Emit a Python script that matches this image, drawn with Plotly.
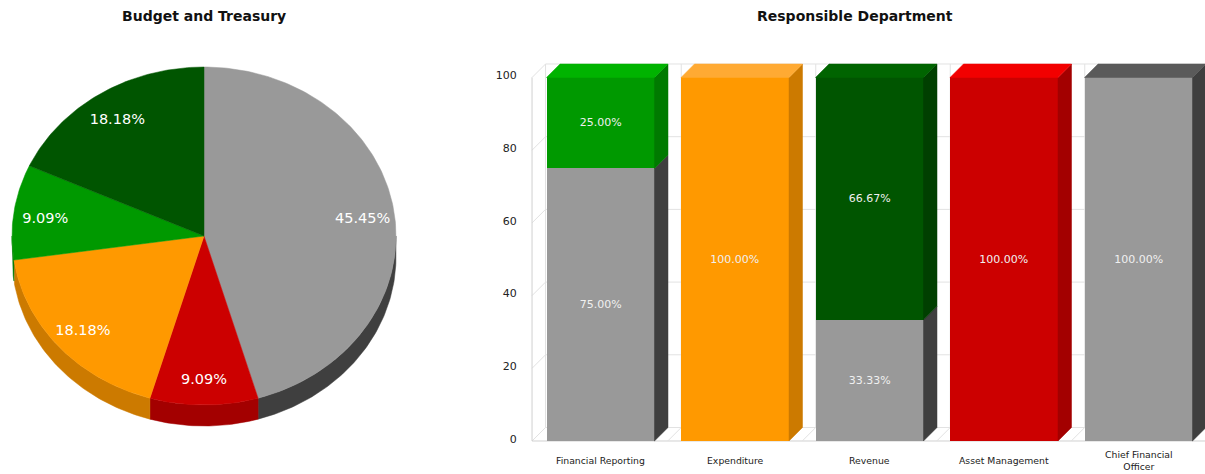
import numpy as np
import plotly.graph_objects as go

# ---------------- data ----------------
status_keys = ["grey", "red", "orange", "green", "darkgreen"]
pie_counts = [5, 1, 2, 1, 2]          # items per status (Budget and Treasury)

departments = ["Financial Reporting", "Expenditure", "Revenue",
               "Asset Management", "Chief Financial<br>Officer"]
pct_grey = [75.00, 0, 33.33, 0, 100.00]
pct_red = [0, 0, 0, 100.00, 0]
pct_orange = [0, 100.00, 0, 0, 0]
pct_green = [25.00, 0, 0, 0, 0]
pct_darkgreen = [0, 0, 66.67, 0, 0]
y_ticks = [0, 20, 40, 60, 80, 100]

# ---------------- styles ----------------
front = {"grey": "#999999", "red": "#CC0000", "orange": "#FF9900",
         "green": "#009900", "darkgreen": "#005500"}
side = {"grey": "#3F3F3F", "red": "#A30000", "orange": "#CC7A00",
        "green": "#007A00", "darkgreen": "#003F00"}
top = {"grey": "#5A5A5A", "red": "#F20000", "orange": "#FFAA33",
       "green": "#00B300", "darkgreen": "#006400"}
FONT = "DejaVu Sans"

fig = go.Figure()

# ---------------- 3D pie (tilted ellipse) ----------------
RY = 169 / 192          # vertical squash of the pie top
DEPTH = 21 / 192        # thickness of the pie rim
LABEL_R = 0.835
LABEL_DY = -3 / 192     # small downward nudge of slice labels

total = sum(pie_counts)
bounds = np.concatenate([[0], np.cumsum(pie_counts)]) / total * 2 * np.pi


def arc(t0, t1):
    n = max(int(abs(t1 - t0) / (np.pi / 180)) + 2, 2)
    t = np.linspace(t0, t1, n)
    return np.sin(t), RY * np.cos(t)


# rim (visible front half, angles between 90 and 270 degrees clockwise from top)
for k, key in enumerate(status_keys):
    a = max(bounds[k], np.pi / 2)
    b = min(bounds[k + 1], 3 * np.pi / 2)
    if b <= a:
        continue
    xs, ys = arc(a, b)
    px = list(xs) + list(xs[::-1]) + [xs[0]]
    py = list(ys) + list((ys - DEPTH)[::-1]) + [ys[0]]
    fig.add_trace(go.Scatter(x=px, y=py, fill="toself", mode="lines",
                             line=dict(width=0.5, color=side[key]),
                             fillcolor=side[key], hoverinfo="skip",
                             xaxis="x2", yaxis="y2"))

# top faces
for k, key in enumerate(status_keys):
    xs, ys = arc(bounds[k], bounds[k + 1])
    px = [0] + list(xs) + [0]
    py = [0] + list(ys) + [0]
    fig.add_trace(go.Scatter(x=px, y=py, fill="toself", mode="lines",
                             line=dict(width=0.5, color=front[key]),
                             fillcolor=front[key], hoverinfo="skip",
                             xaxis="x2", yaxis="y2"))

# slice percentages
mids = (bounds[:-1] + bounds[1:]) / 2
fig.add_trace(go.Scatter(
    x=LABEL_R * np.sin(mids), y=LABEL_R * RY * np.cos(mids) + LABEL_DY,
    mode="text", text=[f"{c / total * 100:.2f}%" for c in pie_counts],
    textfont=dict(family=FONT, size=14.5, color="#FFFFFF"),
    hoverinfo="skip", xaxis="x2", yaxis="y2"))

# ---------------- 3D stacked bars ----------------
BAR_W = 0.803           # bar width in category units
DX = 0.1004             # depth offset, x (category units)
DY = 3.714              # depth offset, y (value units)
X_LEFT = -0.509         # front edge of the left wall
X_END = 4.7

series = [("grey", pct_grey), ("red", pct_red), ("orange", pct_orange),
          ("green", pct_green), ("darkgreen", pct_darkgreen)]
x_idx = list(range(len(departments)))

for key, vals in series:
    fig.add_trace(go.Bar(
        x=x_idx, y=vals, width=BAR_W,
        marker=dict(color=front[key], line=dict(width=0)),
        text=[f"{v:.2f}%" if v else "" for v in vals],
        textposition="inside", insidetextanchor="middle",
        textfont=dict(family=FONT, size=11, color="#F0F0F0"),
        hoverinfo="skip", xaxis="x", yaxis="y"))

# side and top faces derived from the stacked values
base = [0.0] * len(departments)
top_key = [None] * len(departments)
for key, vals in series:
    sx, sy = [], []
    for i, v in enumerate(vals):
        if not v:
            continue
        xr = i + BAR_W / 2
        y0, y1 = base[i], base[i] + v
        sx += [xr, xr, xr + DX, xr + DX, xr, None]
        sy += [y0, y1, y1 + DY, y0 + DY, y0, None]
        base[i] = y1
        top_key[i] = key
    if sx:
        fig.add_trace(go.Scatter(x=sx, y=sy, fill="toself", mode="lines",
                                 line=dict(width=0.5, color=side[key]),
                                 fillcolor=side[key], hoverinfo="skip",
                                 xaxis="x", yaxis="y"))

for key in status_keys:
    tx, ty = [], []
    for i in x_idx:
        if top_key[i] != key:
            continue
        xl, xr, h = i - BAR_W / 2, i + BAR_W / 2, base[i]
        tx += [xl, xr, xr + DX, xl + DX, xl, None]
        ty += [h, h, h + DY, h + DY, h, None]
    if tx:
        fig.add_trace(go.Scatter(x=tx, y=ty, fill="toself", mode="lines",
                                 line=dict(width=0.5, color=top[key]),
                                 fillcolor=top[key], hoverinfo="skip",
                                 xaxis="x", yaxis="y"))

# walls, floor and grid of the 3D frame
GRID = "#E2E2E2"
EDGE = "#D0D0D0"
shapes = []


def seg(x0, y0, x1, y1, color):
    shapes.append(dict(type="line", xref="x", yref="y", x0=x0, y0=y0,
                       x1=x1, y1=y1, layer="below",
                       line=dict(color=color, width=1)))


for v in y_ticks:
    seg(X_LEFT + DX, v + DY, X_END, v + DY, GRID)
    seg(X_LEFT, v, X_LEFT + DX, v + DY, GRID)
seg(X_LEFT, 0, X_LEFT, y_ticks[-1], EDGE)
seg(X_LEFT + DX, DY, X_LEFT + DX, y_ticks[-1] + DY, GRID)
seg(X_LEFT, 0, X_END, 0, EDGE)
for i in x_idx:
    b = i + 0.5
    seg(b, 0, b + DX, DY, GRID)
    seg(b + DX, DY, b + DX, y_ticks[-1] + DY, GRID)

# ---------------- layout ----------------
W, H = 1205, 474
PX_X = 134.5            # pixels per category
PX_Y = 3.635            # pixels per value unit
x_rng = [-0.6, (W - 600.5) / PX_X]
y_rng = [-1.5, 105.0]
dom_x = [(600.5 + PX_X * x_rng[0]) / W, 1.0]
dom_y = [(H - (441 - PX_Y * y_rng[0])) / H, (H - (441 - PX_Y * y_rng[1])) / H]

# category names, centred vertically below the floor
annotations = [
    dict(text=name, x=i, y=1 - 460 / H, xref="x", yref="paper",
         xanchor="center", yanchor="middle", showarrow=False,
         font=dict(family=FONT, size=9.3, color="#222222"))
    for i, name in zip(x_idx, departments)
]
annotations += [
    dict(text="<b>Budget and Treasury</b>", x=204 / W, y=1 - 16 / H,
         xref="paper", yref="paper", xanchor="center", yanchor="middle",
         showarrow=False, font=dict(family=FONT, size=14, color="#111111")),
    dict(text="<b>Responsible Department</b>", x=855 / W, y=1 - 16 / H,
         xref="paper", yref="paper", xanchor="center", yanchor="middle",
         showarrow=False, font=dict(family=FONT, size=14, color="#111111")),
]

fig.update_layout(
    width=W, height=H, margin=dict(l=0, r=0, t=0, b=0, autoexpand=False),
    paper_bgcolor="white", plot_bgcolor="white",
    showlegend=False, barmode="stack", bargap=0,
    font=dict(family=FONT, color="#222222"),
    xaxis=dict(domain=dom_x, range=x_rng, anchor="y", automargin=False,
               tickvals=x_idx, showticklabels=False,
               showgrid=False, zeroline=False, showline=False, ticks="",
               fixedrange=True),
    yaxis=dict(domain=dom_y, range=y_rng, anchor="x", automargin=False,
               tickvals=y_ticks, showgrid=False, zeroline=False,
               showline=False, ticks="",
               tickfont=dict(family=FONT, size=11, color="#222222"),
               ticklabelstandoff=2, ticklabelshift=-2, fixedrange=True),
    xaxis2=dict(domain=[0, 420 / W], range=[-204 / 192, (420 - 204) / 192],
                anchor="y2", visible=False, fixedrange=True, automargin=False),
    yaxis2=dict(domain=[0, 1], range=[-(H - 236) / 192, 236 / 192],
                anchor="x2", visible=False, fixedrange=True, automargin=False),
    shapes=shapes,
    annotations=annotations,
)

fig.write_html("out.html")
